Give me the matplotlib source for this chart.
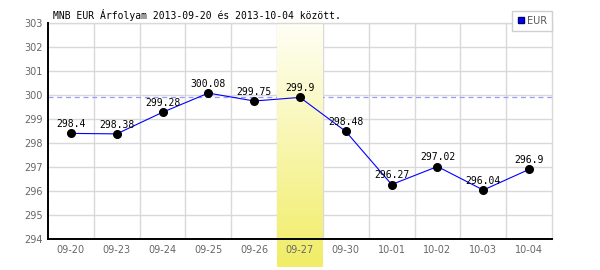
import matplotlib
matplotlib.use("Agg")
import matplotlib.pyplot as plt
from matplotlib.lines import Line2D
import numpy as np

# daily EUR rates (MNB)
dates = ["09-20", "09-23", "09-24", "09-25", "09-26", "09-27",
         "09-30", "10-01", "10-02", "10-03", "10-04"]
rates = [298.4, 298.38, 299.28, 300.08, 299.75, 299.9,
         298.48, 296.27, 297.02, 296.04, 296.9]
rate_labels = ["298.4", "298.38", "299.28", "300.08", "299.75", "299.9",
               "298.48", "296.27", "297.02", "296.04", "296.9"]
highlight = "09-27"
y_ticks = [294, 295, 296, 297, 298, 299, 300, 301, 302, 303]
title = "MNB EUR Árfolyam 2013-09-20 és 2013-10-04 között."

W, H = 600, 270
fig = plt.figure(figsize=(W / 100, H / 100), dpi=100)
ax = fig.add_axes([48 / W, 31 / H, 504 / W, 216 / H])

x = np.arange(len(dates))
ax.set_xlim(-0.5, len(dates) - 0.5)
ax.set_ylim(y_ticks[0], y_ticks[-1])

# grid: horizontal at ticks, vertical between categories
ax.set_yticks(y_ticks)
ax.set_xticks(x)
ax.set_xticks(x[:-1] + 0.5, minor=True)
ax.grid(axis="y", which="major", color="#d9d9d9", linewidth=1.0)
ax.grid(axis="x", which="minor", color="#d9d9d9", linewidth=1.0)
ax.set_axisbelow(True)

ax.set_xticklabels(dates)
ax.tick_params(axis="both", which="both", length=0, labelsize=7, colors="#666666")
ax.tick_params(axis="x", pad=4)
ax.tick_params(axis="y", pad=4)

for side in ["left", "bottom"]:
    ax.spines[side].set_color("black")
    ax.spines[side].set_linewidth(1.4)
    ax.spines[side].set_zorder(5)
for side in ["top", "right"]:
    ax.spines[side].set_color("#d9d9d9")
    ax.spines[side].set_linewidth(1.0)

# highlighted day: yellow gradient column
hi = dates.index(highlight)
ax.axhline(rates[hi], color="#9a9aff", linewidth=0.9, dashes=(4, 3), zorder=1)
grad = np.linspace(0, 1, 256).reshape(-1, 1)
top_c = np.array([1.0, 1.0, 0.97])
bot_c = np.array([0.945, 0.93, 0.40])
img = top_c + (bot_c - top_c) * grad[:, :, None]
px = 1 / 24.0  # one pixel in y units
ext = [hi - 0.5, hi + 0.5, y_ticks[0] - 28 * px, y_ticks[-1] + 3 * px]
# outside the axes: under the tick labels
ax.imshow(img, extent=ext, aspect="auto", origin="upper", zorder=0.4, clip_on=False)
# inside the axes: over the grid
ax.imshow(img, extent=ext, aspect="auto", origin="upper", zorder=1.5)
ax.set_xlim(-0.5, len(dates) - 0.5)
ax.set_ylim(y_ticks[0], y_ticks[-1])

# series
ax.plot(x, rates, color="#0000ff", linewidth=0.8, zorder=3)
ax.plot(x, rates, linestyle="none", marker="o", markersize=5.5,
        color="black", zorder=4)
for xi, yi, lab in zip(x, rates, rate_labels):
    ax.annotate(lab, (xi, yi), xytext=(0, 4.5), textcoords="offset points",
                ha="center", va="baseline", fontsize=7,
                family="DejaVu Sans Mono", color="black", zorder=6)

fig.text(53 / W, 1 - 15 / H, title, fontsize=7, family="DejaVu Sans Mono",
         va="center", ha="left", color="black")

handle = Line2D([], [], linestyle="none", marker="s", markersize=5,
                markerfacecolor="#0000ff", markeredgecolor="#000066")
leg = ax.legend([handle], ["EUR"], loc="upper right",
                bbox_to_anchor=(552 / W, 1 - 11 / H), bbox_transform=fig.transFigure,
                fontsize=7, frameon=True, fancybox=False, framealpha=1,
                edgecolor="#d0d0d0", borderpad=0.5, handlelength=0.7,
                handletextpad=0.3, borderaxespad=0)
leg.get_frame().set_linewidth(1.0)
for t in leg.get_texts():
    t.set_color("#555555")
leg.set_zorder(10)

fig.savefig("out.png", dpi=100)
